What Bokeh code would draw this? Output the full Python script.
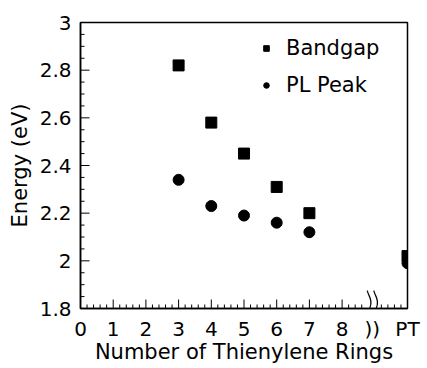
import numpy as np
from bokeh.plotting import figure
from bokeh.models import FixedTicker, Range1d, Legend, LegendItem
from bokeh.embed import file_html
from bokeh.resources import INLINE

# Oligothiophene series: number of thienylene rings vs. energy (eV)
rings = [3, 4, 5, 6, 7]
bandgap = [2.82, 2.58, 2.45, 2.31, 2.20]
pl_peak = [2.34, 2.23, 2.19, 2.16, 2.12]

# Polythiophene (PT) plotted past the axis break
pt_position = 10
pt_bandgap = 2.02
pt_pl_peak = 1.99

x_ticks = [0, 1, 2, 3, 4, 5, 6, 7, 8]
x_minor_step = 0.2
y_ticks = [1.8, 2.0, 2.2, 2.4, 2.6, 2.8, 3.0]
y_tick_labels = {1.8: "1.8", 2.0: "2", 2.2: "2.2", 2.4: "2.4",
                 2.6: "2.6", 2.8: "2.8", 3.0: "3"}
y_minor_step = 0.05
break_at = 8.92

FONT = "DejaVu Sans"
X0, X1, Y0, Y1 = 0, 10, 1.8, 3.0

p = figure(width=427, height=368, output_backend="svg", toolbar_location=None,
           x_range=Range1d(X0, X1), y_range=Range1d(Y0, Y1),
           min_border_left=80, min_border_right=20,
           min_border_top=22, min_border_bottom=60)

p.background_fill_color = "white"
p.border_fill_color = "white"
p.outline_line_color = "black"
p.outline_line_width = 1.5
p.grid.visible = False

xs = rings + [pt_position]
r_bg = p.scatter(xs, bandgap + [pt_bandgap], marker="square", size=11,
                 fill_color="black", line_color="black")
r_pl = p.scatter(xs, pl_peak + [pt_pl_peak], marker="circle", size=11,
                 fill_color="black", line_color="black")

# inward tick marks, drawn inside the frame
x_minor = [v for v in np.round(np.arange(X0, X1, x_minor_step), 2)
           if v not in x_ticks and abs(v - break_at) > 0.15 and v > X0]
x_major = [v for v in x_ticks if v > X0]
y_minor = [v for v in np.round(np.arange(Y0, Y1, y_minor_step), 3)
           if v not in y_ticks and v > Y0]
y_major = [v for v in y_ticks if Y0 < v < Y1]
p.ray(x=x_major, y=[Y0] * len(x_major), length=9, angle=np.pi / 2,
      length_units="screen", line_color="black", line_width=1)
p.ray(x=x_minor, y=[Y0] * len(x_minor), length=4, angle=np.pi / 2,
      length_units="screen", line_color="black", line_width=1)
p.ray(x=[X0] * len(y_major), y=y_major, length=9, angle=0,
      length_units="screen", line_color="black", line_width=1)
p.ray(x=[X0] * len(y_minor), y=y_minor, length=4, angle=0,
      length_units="screen", line_color="black", line_width=1)

# axis break: two wavy strokes rising from the x axis
t = np.linspace(0, 1, 30)
ys_curve = Y0 + t * 0.075
wave = 0.06 * np.sin(np.pi * (1.2 * t + 0.1))
for off in (-0.1, 0.1):
    p.line(break_at + off + wave, ys_curve, line_color="black", line_width=1.3)

# x axis (labels only; "))" continues the break below the axis)
xa = p.xaxis[0]
xa.ticker = FixedTicker(ticks=x_ticks + [break_at, pt_position], minor_ticks=[])
xa.major_label_overrides = {break_at: "))", pt_position: "PT"}
xa.axis_label = "Number of Thienylene Rings"

# y axis
ya = p.yaxis[0]
ya.ticker = FixedTicker(ticks=y_ticks, minor_ticks=[])
ya.major_label_overrides = y_tick_labels
ya.axis_label = "Energy (eV)"

for ax in (xa, ya):
    ax.axis_line_color = "black"
    ax.axis_line_width = 1.5
    ax.major_tick_in = 0
    ax.major_tick_out = 0
    ax.minor_tick_in = 0
    ax.minor_tick_out = 0
    ax.major_label_text_font = FONT
    ax.major_label_text_font_size = "20px"
    ax.major_label_text_color = "black"
    ax.axis_label_text_font = FONT
    ax.axis_label_text_font_size = "21px"
    ax.axis_label_text_font_style = "normal"
    ax.axis_label_text_color = "black"

xa.major_label_standoff = 8
xa.axis_label_standoff = -4
ya.major_label_standoff = 9
ya.axis_label_standoff = 5

legend = Legend(items=[LegendItem(label="Bandgap", renderers=[r_bg]),
                       LegendItem(label="PL Peak", renderers=[r_pl])],
                location=(179, 211), orientation="vertical",
                border_line_alpha=0, background_fill_alpha=0,
                label_text_font=FONT, label_text_font_size="21px",
                label_text_color="black",
                glyph_width=14, glyph_height=14, label_standoff=13,
                spacing=13, padding=0, margin=0)
p.add_layout(legend)

open("out.html", "w").write(file_html(p, INLINE))
